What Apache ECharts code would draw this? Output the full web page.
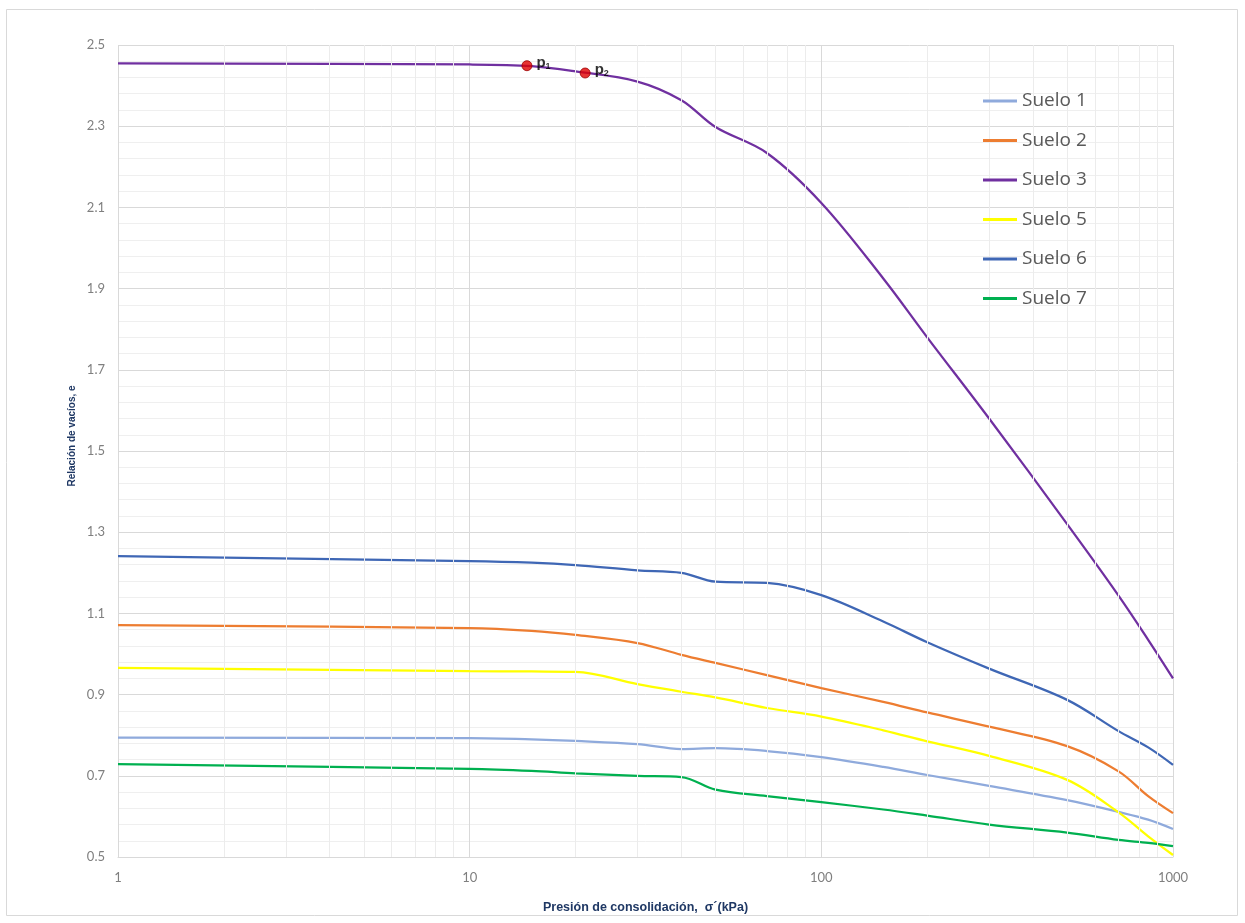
<!DOCTYPE html>
<html>
<head>
<meta charset="utf-8">
<script src="https://cdn.jsdelivr.net/npm/echarts@6/dist/echarts.min.js"></script>
<style>
html,body{margin:0;padding:0;background:#fff;}
#chart{width:1245px;height:923px;}
</style>
</head>
<body>
<div id="chart"></div>
<script>
const pressures = [1, 10, 15, 20, 30, 40, 50, 70, 100, 150, 200, 300, 500, 700, 850, 1000];
const suelo1 = [0.794, 0.793, 0.790, 0.786, 0.778, 0.766, 0.768, 0.761, 0.746, 0.722, 0.702, 0.675, 0.640, 0.611, 0.592, 0.569];
const suelo2 = [1.071, 1.064, 1.057, 1.047, 1.027, 0.998, 0.978, 0.948, 0.916, 0.882, 0.856, 0.821, 0.773, 0.711, 0.650, 0.608];
const suelo3 = [2.455, 2.452, 2.448, 2.435, 2.410, 2.364, 2.298, 2.234, 2.111, 1.925, 1.780, 1.580, 1.320, 1.144, 1.035, 0.940];
const suelo5 = [0.966, 0.958, 0.957, 0.956, 0.926, 0.907, 0.893, 0.867, 0.846, 0.812, 0.785, 0.749, 0.690, 0.610, 0.551, 0.505];
const suelo6 = [1.241, 1.229, 1.225, 1.219, 1.206, 1.200, 1.178, 1.175, 1.145, 1.080, 1.029, 0.964, 0.887, 0.810, 0.770, 0.727];
const suelo7 = [0.729, 0.717, 0.712, 0.706, 0.700, 0.697, 0.666, 0.650, 0.635, 0.617, 0.602, 0.580, 0.560, 0.542, 0.535, 0.527];
const seriesNames = ['Suelo 1', 'Suelo 2', 'Suelo 3', 'Suelo 5', 'Suelo 6', 'Suelo 7'];
const seriesColors = ['#8FAADC', '#ED7D31', '#7030A0', '#FFFF00', '#3F67B5', '#00B050'];
const pointNames = ['1', '2'];
const pointX = [14.55, 21.3];
const pointY = [2.449, 2.431];
const minorX = [2,3,4,5,6,7,8,9,20,30,40,50,60,70,80,90,200,300,400,500,600,700,800,900];

const allValues = [suelo1, suelo2, suelo3, suelo5, suelo6, suelo7];

const chart = echarts.init(document.getElementById('chart'), null, {renderer: 'canvas'});

const lineSeries = seriesNames.map((name, i) => ({
  name: name,
  type: 'line',
  data: pressures.map((p, j) => [p, allValues[i][j]]),
  smooth: 0.35,
  symbol: 'none',
  z: 3,
  lineStyle: {color: seriesColors[i], width: 2.25},
  itemStyle: {color: seriesColors[i]},
  emphasis: {disabled: true}
}));

const option = {
  animation: false,
  backgroundColor: '#fff',
  textStyle: {fontFamily: 'Lato'},
  grid: {left: 118, right: 72, top: 45, bottom: 66, containLabel: false},
  graphic: [
    {type: 'rect', shape: {x: 6.5, y: 9.5, width: 1231, height: 906}, style: {fill: 'none', stroke: '#d9d9d9', lineWidth: 1}, silent: true, z: -10},
    {type: 'text', x: 72, y: 436, rotation: Math.PI / 2, style: {text: 'Relación de vacíos, e', fontFamily: 'Liberation Sans', fontWeight: 'bold', fontSize: 10, fill: '#1F3864', align: 'center', verticalAlign: 'middle'}, silent: true}
  ],
  legend: {
    data: seriesNames,
    orient: 'vertical',
    left: 978,
    top: 86,
    z: 10,
    icon: 'rect',
    itemWidth: 34,
    itemHeight: 3,
    itemGap: 19.5,
    textStyle: {fontFamily: 'Open Sans', fontSize: 19, color: '#595959', lineHeight: 20},
    selectedMode: false
  },
  xAxis: {
    type: 'log',
    logBase: 10,
    min: 1,
    max: 1000,
    name: 'Presión de consolidación,  σ´(kPa)',
    nameLocation: 'middle',
    nameGap: 44,
    nameTextStyle: {fontFamily: 'Liberation Sans', fontWeight: 'bold', fontSize: 12.5, color: '#1F3864'},
    axisLine: {show: true, lineStyle: {color: '#d9d9d9', width: 1}},
    axisTick: {show: false},
    axisLabel: {color: '#7f7f7f', fontSize: 13, margin: 14, fontFamily: 'Lato', formatter: v => String(Math.round(v))},
    splitLine: {show: true, lineStyle: {color: '#d9d9d9', width: 1}}
  },
  yAxis: {
    type: 'value',
    min: 0.5,
    max: 2.5,
    interval: 0.2,
    axisLine: {show: false},
    axisTick: {show: false},
    axisLabel: {color: '#7f7f7f', fontSize: 13, margin: 13, fontFamily: 'Lato', formatter: v => v.toFixed(1)},
    splitLine: {show: true, lineStyle: {color: '#d9d9d9', width: 1}},
    minorTick: {show: false, splitNumber: 5},
    minorSplitLine: {show: true, lineStyle: {color: '#efefef', width: 1}}
  },
  series: [
    {
      name: 'minor-x-grid',
      type: 'line',
      data: [],
      symbol: 'none',
      silent: true,
      z: 1,
      markLine: {
        silent: true,
        symbol: ['none', 'none'],
        label: {show: false},
        lineStyle: {color: '#ececec', width: 1, type: 'solid'},
        emphasis: {disabled: true},
        animation: false,
        data: minorX.map(v => ({xAxis: v}))
      }
    },
    ...lineSeries,
    {
      name: 'puntos',
      type: 'scatter',
      z: 5,
      data: pointX.map((x, i) => ({value: [x, pointY[i]], sub: pointNames[i]})),
      symbolSize: 10,
      itemStyle: {color: '#E00000', borderColor: '#9E0000', borderWidth: 1},
      label: {
        show: true,
        position: 'right',
        distance: 4,
        offset: [0, -3],
        formatter: p => '{b|p}{s|' + p.data.sub + '}',
        rich: {
          b: {fontFamily: 'Liberation Sans', fontWeight: 'bold', fontSize: 15, color: '#000'},
          s: {fontFamily: 'Liberation Sans', fontWeight: 'bold', fontSize: 9, color: '#000', padding: [8, 0, 0, 0]}
        }
      },
      emphasis: {disabled: true}
    }
  ]
};
chart.setOption(option);
</script>
</body>
</html>
